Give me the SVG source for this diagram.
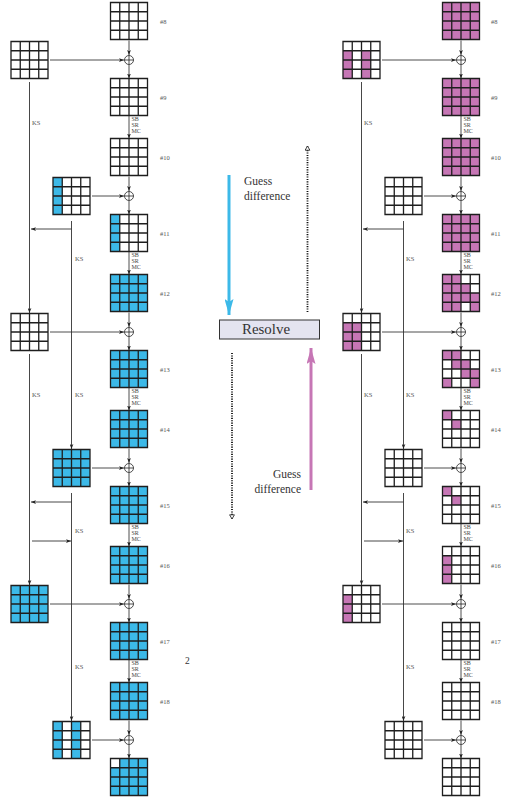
<svg xmlns="http://www.w3.org/2000/svg" width="507" height="803" viewBox="0 0 507 803">
<style>
.g{fill:none;stroke:#1e1e1e;stroke-width:1.3}
.b{fill:#3cb9e8}
.p{fill:#c676b5}
.c{fill:none;stroke:#222;stroke-width:0.8;marker-end:url(#ah)}
.k{fill:none;stroke:#333;stroke-width:0.9;marker-end:url(#ah)}
.x{fill:#fff;stroke:#222;stroke-width:0.8}
.lbl{font-family:"Liberation Serif",serif;font-size:6.5px;fill:#555}
.op{font-family:"Liberation Serif",serif;font-size:6px;fill:#444}
.txt{font-family:"Liberation Serif",serif;font-size:11.5px;fill:#333}
.dot{stroke:#111;stroke-width:1.8;stroke-dasharray:1.1,1.3;marker-end:url(#oh)}
</style>
<defs>
<path id="grid" class="g" d="M0 0H37V37H0Z M9.25 0V37 M18.5 0V37 M27.75 0V37 M0 9.25H37 M0 18.5H37 M0 27.75H37"/>
<g id="xor"><circle r="4.5" class="x"/><path d="M-4.5 0H4.5M0 -4.5V4.5" stroke="#222" stroke-width="0.8"/></g>
<marker id="ah" viewBox="0 0 8 6" refX="8" refY="3" markerWidth="5" markerHeight="4" orient="auto" markerUnits="userSpaceOnUse"><path d="M0 0L8 3L0 6L2 3Z" fill="#222"/></marker>
<marker id="oh" viewBox="0 0 8 10" refX="7.5" refY="5" markerWidth="7" markerHeight="6" orient="auto" markerUnits="userSpaceOnUse"><path d="M0.5 1L7.5 5L0.5 9Z" fill="#fff" stroke="#111" stroke-width="1.3"/></marker>
<marker id="bh" viewBox="0 0 16 9" refX="16" refY="4.5" markerWidth="16" markerHeight="9" orient="auto" markerUnits="userSpaceOnUse"><path d="M0 0L16 4.5L0 9L3 4.5Z" fill="#3cb9e8"/></marker>
<marker id="ph" viewBox="0 0 16 9" refX="16" refY="4.5" markerWidth="16" markerHeight="9" orient="auto" markerUnits="userSpaceOnUse"><path d="M0 0L16 4.5L0 9L3 4.5Z" fill="#c676b5"/></marker>
<g id="conn">
<path class="c" d="M129 40.5V55"/><path class="c" d="M129 65V78.5"/>
<path class="c" d="M129 176.5V191"/><path class="c" d="M129 201V214.5"/>
<path class="c" d="M129 312.5V327"/><path class="c" d="M129 337V350.5"/>
<path class="c" d="M129 448.5V463"/><path class="c" d="M129 473V486.5"/>
<path class="c" d="M129 584.5V599"/><path class="c" d="M129 609V622.5"/>
<path class="c" d="M129 720.5V735"/><path class="c" d="M129 745V758.5"/>
<path class="c" d="M129 115.5V138.5"/><path class="c" d="M129 251.5V274.5"/><path class="c" d="M129 387.5V410.5"/><path class="c" d="M129 523.5V546.5"/><path class="c" d="M129 659.5V682.5"/>
<path class="c" d="M50 60H124"/><path class="c" d="M92 196H124"/><path class="c" d="M50 332H124"/><path class="c" d="M92 468H124"/><path class="c" d="M50 604H124"/><path class="c" d="M92 740H124"/>
<path class="k" d="M29.5 82V313"/><path class="k" d="M29.5 354V585"/><path class="k" d="M71.5 221V449"/><path class="k" d="M71.5 493V721"/>
<path class="k" d="M71.5 229H31"/><path class="k" d="M71.5 502H31"/><path class="k" d="M32 541H71"/>
</g>
</defs>
<rect width="507" height="803" fill="#fff"/>

<!-- connectors -->
<g id="connectors">
<use href="#conn"/>
<use href="#conn" x="332"/>
<line x1="229" y1="175" x2="229" y2="315" stroke="#3cb9e8" stroke-width="3" marker-end="url(#bh)"/>
<line x1="311" y1="490" x2="311" y2="348" stroke="#c676b5" stroke-width="3" marker-end="url(#ph)"/>
<line class="dot" x1="307.5" y1="312" x2="307.5" y2="146"/>
<line class="dot" x1="232" y1="353" x2="232" y2="519"/>
</g>

<!-- XOR nodes -->
<g id="xors-left">
<use href="#xor" x="129" y="60"/><use href="#xor" x="129" y="196"/><use href="#xor" x="129" y="332"/><use href="#xor" x="129" y="468"/><use href="#xor" x="129" y="604"/><use href="#xor" x="129" y="740"/>
</g>
<g id="xors-right">
<use href="#xor" x="461" y="60"/><use href="#xor" x="461" y="196"/><use href="#xor" x="461" y="332"/><use href="#xor" x="461" y="468"/><use href="#xor" x="461" y="604"/><use href="#xor" x="461" y="740"/>
</g>

<!-- left state grids -->
<g id="L8" transform="translate(110.5,2.5)"><use href="#grid"/></g>
<g id="L9" transform="translate(110.5,78.5)"><use href="#grid"/></g>
<g id="L10" transform="translate(110.5,138.5)"><use href="#grid"/></g>
<g id="L11" transform="translate(110.5,214.5)"><rect class="b" width="9.25" height="37"/><use href="#grid"/></g>
<g id="L12" transform="translate(110.5,274.5)"><rect class="b" width="37" height="37"/><use href="#grid"/></g>
<g id="L13" transform="translate(110.5,350.5)"><rect class="b" width="37" height="37"/><use href="#grid"/></g>
<g id="L14" transform="translate(110.5,410.5)"><rect class="b" width="37" height="37"/><use href="#grid"/></g>
<g id="L15" transform="translate(110.5,486.5)"><rect class="b" width="37" height="37"/><use href="#grid"/></g>
<g id="L16" transform="translate(110.5,546.5)"><rect class="b" width="37" height="37"/><use href="#grid"/></g>
<g id="L17" transform="translate(110.5,622.5)"><rect class="b" width="37" height="37"/><use href="#grid"/></g>
<g id="L18" transform="translate(110.5,682.5)"><rect class="b" width="37" height="37"/><use href="#grid"/></g>
<g id="L19" transform="translate(110.5,758.5)"><rect class="b" x="9.25" width="27.75" height="9.25"/><rect class="b" y="9.25" width="37" height="27.75"/><use href="#grid"/></g>
<!-- left key grids -->
<g id="LK1" transform="translate(11,41.5)"><use href="#grid"/></g>
<g id="LK2" transform="translate(53,177.5)"><rect class="b" width="9.25" height="37"/><use href="#grid"/></g>
<g id="LK3" transform="translate(11,313.5)"><use href="#grid"/></g>
<g id="LK4" transform="translate(53,449.5)"><rect class="b" width="37" height="37"/><use href="#grid"/></g>
<g id="LK5" transform="translate(11,585.5)"><rect class="b" width="37" height="37"/><use href="#grid"/></g>
<g id="LK6" transform="translate(53,721.5)"><rect class="b" width="9.25" height="37"/><rect class="b" x="18.5" width="9.25" height="37"/><use href="#grid"/></g>

<!-- right state grids -->
<g id="R8" transform="translate(442.5,2.5)"><rect class="p" width="37" height="37"/><use href="#grid"/></g>
<g id="R9" transform="translate(442.5,78.5)"><rect class="p" width="37" height="37"/><use href="#grid"/></g>
<g id="R10" transform="translate(442.5,138.5)"><rect class="p" width="37" height="37"/><use href="#grid"/></g>
<g id="R11" transform="translate(442.5,214.5)"><rect class="p" width="37" height="37"/><use href="#grid"/></g>
<g id="R12" transform="translate(442.5,274.5)"><rect class="p" width="18.5" height="9.25"/><rect class="p" y="9.25" width="27.75" height="9.25"/><rect class="p" y="18.5" width="37" height="9.25"/><rect class="p" y="27.75" width="18.5" height="9.25"/><rect class="p" x="27.75" y="27.75" width="9.25" height="9.25"/><use href="#grid"/></g>
<g id="R13" transform="translate(442.5,350.5)"><rect class="p" width="18.5" height="9.25"/><rect class="p" x="9.25" y="9.25" width="18.5" height="9.25"/><rect class="p" x="18.5" y="18.5" width="18.5" height="9.25"/><rect class="p" y="27.75" width="9.25" height="9.25"/><rect class="p" x="27.75" y="27.75" width="9.25" height="9.25"/><use href="#grid"/></g>
<g id="R14" transform="translate(442.5,410.5)"><rect class="p" width="9.25" height="9.25"/><rect class="p" x="9.25" y="9.25" width="9.25" height="9.25"/><use href="#grid"/></g>
<g id="R15" transform="translate(442.5,486.5)"><rect class="p" width="9.25" height="9.25"/><rect class="p" x="9.25" y="9.25" width="9.25" height="9.25"/><use href="#grid"/></g>
<g id="R16" transform="translate(442.5,546.5)"><rect class="p" y="9.25" width="9.25" height="27.75"/><use href="#grid"/></g>
<g id="R17" transform="translate(442.5,622.5)"><use href="#grid"/></g>
<g id="R18" transform="translate(442.5,682.5)"><use href="#grid"/></g>
<g id="R19" transform="translate(442.5,758.5)"><use href="#grid"/></g>
<!-- right key grids -->
<g id="RK1" transform="translate(343,41.5)"><rect class="p" y="9.25" width="9.25" height="27.75"/><rect class="p" x="18.5" y="9.25" width="9.25" height="27.75"/><use href="#grid"/></g>
<g id="RK2" transform="translate(385,177.5)"><use href="#grid"/></g>
<g id="RK3" transform="translate(343,313.5)"><rect class="p" y="9.25" width="18.5" height="27.75"/><use href="#grid"/></g>
<g id="RK4" transform="translate(385,449.5)"><use href="#grid"/></g>
<g id="RK5" transform="translate(343,585.5)"><rect class="p" y="9.25" width="9.25" height="27.75"/><use href="#grid"/></g>
<g id="RK6" transform="translate(385,721.5)"><use href="#grid"/></g>

<!-- labels -->
<g id="labels-left" class="lbl">
<text x="160" y="23.5">#8</text><text x="160" y="99.5">#9</text><text x="160" y="159.5">#10</text><text x="160" y="235.5">#11</text><text x="160" y="295.5">#12</text><text x="160" y="371.5">#13</text><text x="160" y="431.5">#14</text><text x="160" y="507.5">#15</text><text x="160" y="567.5">#16</text><text x="160" y="643.5">#17</text><text x="160" y="703.5">#18</text>
<text x="32" y="124.5">KS</text><text x="32" y="396.5">KS</text><text x="75" y="260.5">KS</text><text x="75" y="396.5">KS</text><text x="75" y="532.5">KS</text><text x="75" y="668.5">KS</text>
</g>
<g id="labels-right" class="lbl">
<text x="491" y="23.5">#8</text><text x="491" y="99.5">#9</text><text x="491" y="159.5">#10</text><text x="491" y="235.5">#11</text><text x="491" y="295.5">#12</text><text x="491" y="371.5">#13</text><text x="491" y="431.5">#14</text><text x="491" y="507.5">#15</text><text x="491" y="567.5">#16</text><text x="491" y="643.5">#17</text><text x="491" y="703.5">#18</text>
<text x="364" y="124.5">KS</text><text x="364" y="396.5">KS</text><text x="406" y="260.5">KS</text><text x="406" y="396.5">KS</text><text x="406" y="532.5">KS</text><text x="406" y="668.5">KS</text>
</g>
<g id="ops-left" class="op">
<text x="131.5" y="120.5">SB</text><text x="131.5" y="126.5">SR</text><text x="131.5" y="132.5">MC</text>
<text x="131.5" y="256.5">SB</text><text x="131.5" y="262.5">SR</text><text x="131.5" y="268.5">MC</text>
<text x="131.5" y="392.5">SB</text><text x="131.5" y="398.5">SR</text><text x="131.5" y="404.5">MC</text>
<text x="131.5" y="528.5">SB</text><text x="131.5" y="534.5">SR</text><text x="131.5" y="540.5">MC</text>
<text x="131.5" y="664.5">SB</text><text x="131.5" y="670.5">SR</text><text x="131.5" y="676.5">MC</text>
</g>
<g id="ops-right" class="op">
<text x="463.5" y="120.5">SB</text><text x="463.5" y="126.5">SR</text><text x="463.5" y="132.5">MC</text>
<text x="463.5" y="256.5">SB</text><text x="463.5" y="262.5">SR</text><text x="463.5" y="268.5">MC</text>
<text x="463.5" y="392.5">SB</text><text x="463.5" y="398.5">SR</text><text x="463.5" y="404.5">MC</text>
<text x="463.5" y="528.5">SB</text><text x="463.5" y="534.5">SR</text><text x="463.5" y="540.5">MC</text>
<text x="463.5" y="664.5">SB</text><text x="463.5" y="670.5">SR</text><text x="463.5" y="676.5">MC</text>
</g>

<!-- center -->
<g id="resolve">
<rect x="219.5" y="320" width="100" height="19" fill="#e4e4f0" stroke="#333" stroke-width="1"/>
<text x="266" y="334" text-anchor="middle" font-family="Liberation Serif, serif" font-size="14" fill="#333" textLength="48" lengthAdjust="spacingAndGlyphs">Resolve</text>
</g>
<g id="guess-top" class="txt">
<text x="244" y="184.5">Guess</text><text x="244" y="199.5">difference</text>
</g>
<g id="guess-bottom" class="txt" text-anchor="end">
<text x="301" y="478">Guess</text><text x="301" y="493">difference</text>
</g>
<text x="185" y="664" font-family="Liberation Serif, serif" font-size="9.5" fill="#333">2</text>
</svg>
